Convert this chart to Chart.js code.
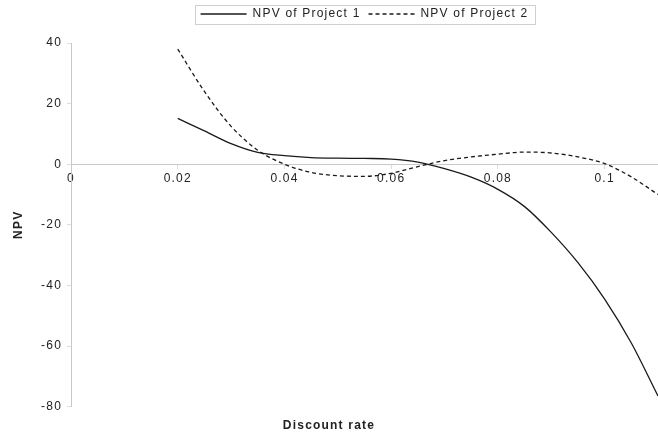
<!DOCTYPE html>
<html>
<head>
<meta charset="utf-8">
<script src="https://cdn.jsdelivr.net/npm/chart.js@4"></script>
<style>
  html, body { margin: 0; padding: 0; background: #fff; }
  #wrap { width: 658px; height: 433px; }
</style>
</head>
<body>
<div id="wrap"><canvas id="npvChart"></canvas></div>
<script>
/* ===== data ===== */
const rates = [0.02, 0.025, 0.03, 0.035, 0.04, 0.045, 0.05, 0.055, 0.06, 0.065, 0.07, 0.075, 0.08, 0.085, 0.09, 0.095, 0.1, 0.105, 0.11];
const npv1 = [15.1, 11, 6.8, 3.9, 2.8, 2.2, 2.0, 1.9, 1.7, 0.7, -1.5, -4.3, -8.3, -14, -22.5, -32.5, -44.5, -59, -76.5];
const npv2 = [38, 24, 12.5, 4.6, 0, -2.7, -3.8, -4.0, -3.0, -0.8, 1.2, 2.4, 3.3, 4.0, 3.7, 2.4, 0.2, -4.2, -10];
const xTicks = [0, 0.02, 0.04, 0.06, 0.08, 0.1];
const yTicks = [-80, -60, -40, -20, 0, 20, 40];

Chart.defaults.font.family = "'Liberation Sans', Arial, sans-serif";
Chart.defaults.font.size = 12;
Chart.defaults.color = '#222';

const toPts = ys => rates.map((x, i) => ({ x: x, y: ys[i] }));
const axisLine = { display: true, color: '#c8c8c8', width: 1 };
const tickMarks = { drawOnChartArea: false, tickLength: 4, color: '#dcdcdc' };

// the reference text is set wide, so space the letters a little
const wideText = {
    id: 'wideText',
    beforeUpdate(chart) { chart.ctx.letterSpacing = '1.2px'; },
    beforeDraw(chart) { chart.ctx.letterSpacing = '1.2px'; }
};

// legend gets a fixed band at the top, centred over the plot, with a thin box round its items
const legendBox = {
    id: 'legendBox',
    beforeInit(chart) {
        const lg = chart.legend;
        const fit = lg.fit;
        lg.fit = function () { fit.call(this); this.height = 43; };
    },
    afterLayout(chart) {
        const lg = chart.legend;
        const shift = (chart.chartArea.left + chart.chartArea.right) / 2 - (lg.left + lg.right) / 2;
        lg.left += shift;
        lg.right += shift;
    },
    afterDraw(chart) {
        const hb = chart.legend.legendHitBoxes;
        if (!hb || !hb.length) return;
        const left = Math.min(...hb.map(b => b.left)) - 6;
        const right = Math.max(...hb.map(b => b.left + b.width)) + 6;
        const ctx = chart.ctx;
        ctx.save();
        ctx.strokeStyle = '#cfcfcf';
        ctx.lineWidth = 1;
        ctx.strokeRect(Math.round(left) + 0.5, 5.5, Math.round(right - left), 19);
        ctx.restore();
    }
};

new Chart(document.getElementById('npvChart'), {
    type: 'scatter',
    data: {
        datasets: [
            { label: 'NPV of Project 1', data: toPts(npv1), showLine: true, borderColor: '#1a1a1a', borderWidth: 1.3, pointRadius: 0, cubicInterpolationMode: 'monotone' },
            { label: 'NPV of Project 2', data: toPts(npv2), showLine: true, borderColor: '#1a1a1a', borderWidth: 1.3, borderDash: [4, 3], pointRadius: 0, cubicInterpolationMode: 'monotone' }
        ]
    },
    options: {
        responsive: true, maintainAspectRatio: false, animation: false,
        layout: { padding: { left: 0, right: 0, top: 0, bottom: 0 } },
        plugins: {
            legend: {
                position: 'top',
                labels: {
                    usePointStyle: true, pointStyle: 'line', pointStyleWidth: 46,
                    boxWidth: 46, boxHeight: 1, padding: 8, color: '#222',
                    font: { size: 12 },
                    generateLabels: chart => Chart.defaults.plugins.legend.labels.generateLabels(chart).map(it => {
                        const ds = chart.data.datasets[it.datasetIndex];
                        it.lineDash = ds.borderDash || [];
                        it.strokeStyle = ds.borderColor;
                        it.lineWidth = 1.3;
                        return it;
                    })
                }
            },
            title: {
                display: true, position: 'bottom', text: 'Discount rate',
                font: { size: 12, weight: 'bold' }, padding: { top: 12, bottom: 0 }
            },
            tooltip: { enabled: false }
        },
        scales: {
            x: {
                type: 'linear', position: { y: 0 }, min: 0, max: 0.11,
                afterBuildTicks: s => { s.ticks = xTicks.map(v => ({ value: v })); },
                ticks: { callback: v => String(+v.toFixed(2)), padding: 3 },
                grid: tickMarks, border: axisLine
            },
            y: {
                min: -80, max: 40,
                afterBuildTicks: s => { s.ticks = yTicks.map(v => ({ value: v })); },
                afterFit: s => { s.width = 71; },
                ticks: { padding: 5 },
                title: { display: true, text: 'NPV', font: { size: 12, weight: 'bold' }, padding: { top: 11, bottom: 0 } },
                grid: tickMarks, border: axisLine
            }
        }
    },
    plugins: [wideText, legendBox]
});
</script>
</body>
</html>
